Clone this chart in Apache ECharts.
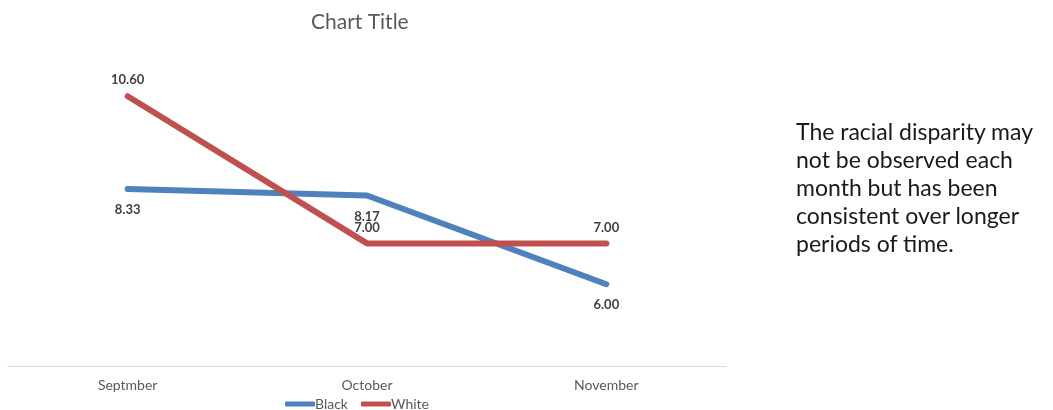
<!DOCTYPE html>
<html>
<head>
<meta charset="utf-8">
<script src="https://cdn.jsdelivr.net/npm/echarts@6/dist/echarts.min.js"></script>
<style>
  html, body { margin: 0; padding: 0; background: #fff; }
  #wrap { position: relative; width: 1053px; height: 410px; }
  #mainChart { position: absolute; left: 0; top: 0; width: 1053px; height: 410px; }
  #note {
    position: absolute; left: 796px; top: 117px; width: 257px;
    font-family: Lato, "Open Sans", sans-serif; font-size: 23px;
    line-height: 28px; color: #1a1a1a; white-space: nowrap;
  }
</style>
</head>
<body>
<div id="wrap">
  <div id="mainChart"></div>
  <div id="note">The racial disparity may<br>not be observed each<br>month but has been<br>consistent over longer<br>periods of time.</div>
</div>
<script>
// 月份
var months = ['Septmber', 'October', 'November']
// 各组数值
var blackValues = [8.33, 8.17, 6.00]
var whiteValues = [10.60, 7.00, 7.00]

var chartReport = echarts.init(document.getElementById('mainChart'))

var labelFont = {
  fontFamily: 'Lato, sans-serif',
  fontSize: 13,
  fontWeight: 'bold',
  color: '#404040'
}

var option = {
  animation: false,
  title: {
    text: 'Chart Title',
    left: 306,
    top: 7,
    textStyle: { fontFamily: 'Lato, sans-serif', fontSize: 21, fontWeight: 'normal', color: '#595959' }
  },
  legend: {
    left: 280,
    top: 392,
    icon: 'roundRect',
    itemWidth: 30,
    itemHeight: 5,
    itemGap: 13,
    textStyle: { fontFamily: 'Lato, sans-serif', fontSize: 14, color: '#595959', padding: [0, 0, 0, -5] },
    data: ['Black', 'White']
  },
  grid: { left: 8, right: 327, top: 39, bottom: 44, containLabel: false },
  xAxis: {
    type: 'category',
    data: months,
    boundaryGap: true,
    axisLine: { lineStyle: { color: '#d9d9d9', width: 1 } },
    axisTick: { show: false },
    axisLabel: { margin: 12, fontFamily: 'Lato, sans-serif', fontSize: 14, color: '#595959' }
  },
  yAxis: {
    type: 'value',
    min: 4,
    max: 12,
    interval: 1,
    show: false,
    splitLine: { show: false }
  },
  series: [
    {
      name: 'Black',
      type: 'line',
      data: blackValues,
      symbol: 'circle',
      symbolSize: 1,
      color: '#4F81BD',
      lineStyle: { width: 6, cap: 'round', join: 'round' },
      label: Object.assign({
        show: true,
        position: 'bottom',
        distance: 14,
        formatter: function (p) { return p.value.toFixed(2) }
      }, labelFont)
    },
    {
      name: 'White',
      type: 'line',
      data: whiteValues,
      symbol: 'circle',
      symbolSize: 1,
      color: '#C0504D',
      lineStyle: { width: 6, cap: 'round', join: 'round' },
      label: Object.assign({
        show: true,
        position: 'top',
        distance: 9,
        formatter: function (p) { return p.value.toFixed(2) }
      }, labelFont)
    }
  ]
}

chartReport.setOption(option)
</script>
</body>
</html>
